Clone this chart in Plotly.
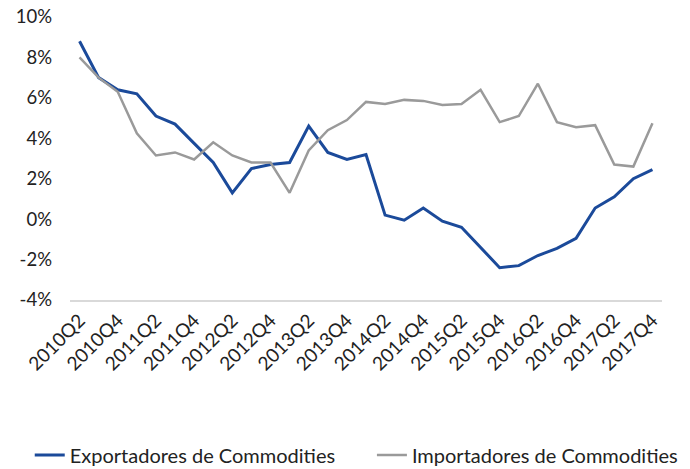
import plotly.graph_objects as go

quarters = [f"{y}Q{q}" for y in range(2010, 2018) for q in range(1, 5)][1:]

exportadores = [8.8, 7.0, 6.4, 6.2, 5.1, 4.7, 3.75, 2.8, 1.3, 2.5, 2.7, 2.8, 4.6, 3.3, 2.95,
                3.2, 0.2, -0.05, 0.55, -0.1, -0.4, -1.4, -2.4, -2.3, -1.8, -1.45, -0.95,
                0.55, 1.1, 2.0, 2.45]
importadores = [8.0, 7.0, 6.3, 4.25, 3.15, 3.3, 2.95, 3.8, 3.15, 2.8, 2.8, 1.3, 3.4, 4.4, 4.9,
                5.8, 5.7, 5.9, 5.85, 5.65, 5.7, 6.4, 4.8, 5.1, 6.7, 4.8, 4.55, 4.65, 2.7,
                2.6, 4.75]

tick_labels = quarters[::2]
y_ticks = [-4, -2, 0, 2, 4, 6, 8, 10]

fig = go.Figure()
fig.add_trace(go.Scatter(x=quarters, y=exportadores, mode="lines",
                         name="Exportadores de Commodities", legend="legend",
                         line=dict(color="#1B4A9A", width=3)))
fig.add_trace(go.Scatter(x=quarters, y=importadores, mode="lines",
                         name="Importadores de Commodities", legend="legend2",
                         line=dict(color="#9A9A9A", width=2.5)))

font_family = "Lato, 'Open Sans', sans-serif"
legend_common = dict(orientation="h", xanchor="left", yanchor="middle", y=-0.548,
                     font=dict(size=20, color="#222222"), bgcolor="rgba(0,0,0,0)")
fig.update_layout(
    width=690, height=469,
    margin=dict(l=70, r=28, t=17, b=169, autoexpand=False),
    paper_bgcolor="white", plot_bgcolor="white",
    font=dict(family=font_family, size=18, color="#222222"),
    showlegend=True,
    legend=dict(x=-0.068, **legend_common),
    legend2=dict(x=0.51, **legend_common),
    xaxis=dict(type="category", range=[-0.5, len(quarters) - 0.5],
               tickmode="array", tickvals=tick_labels, ticktext=tick_labels,
               tickangle=-45, showgrid=False, zeroline=False,
               showline=True, linecolor="#D9D9D9", linewidth=2, ticks="",
               tickfont=dict(size=19), automargin=False),
    yaxis=dict(range=[-4, 10], tickvals=y_ticks,
               ticktext=[f"{v}%" for v in y_ticks],
               showgrid=False, zeroline=False, showline=False, ticks="",
               tickfont=dict(size=18.5), ticklabelstandoff=17, automargin=False,
               ticklabeloverflow="allow"),
)

fig.write_html("out.html", config={"displayModeBar": False},
               post_script="document.body.style.margin='0';")
